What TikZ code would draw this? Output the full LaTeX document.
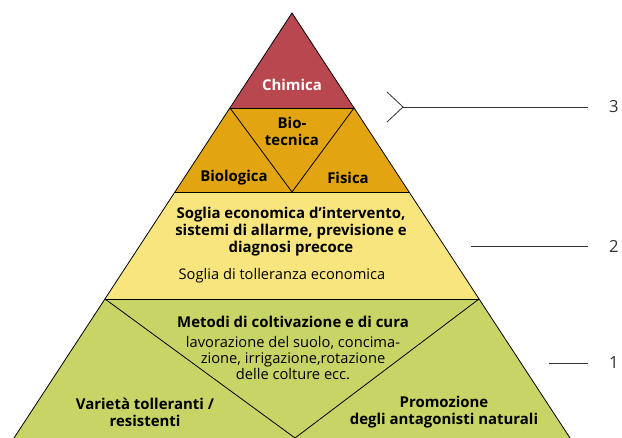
\documentclass[tikz,border=0pt]{standalone}
\usepackage{fontspec}
\setmainfont{Open Sans}
\usetikzlibrary{positioning, calc}
\definecolor{chemred}{HTML}{B8474F}
\definecolor{techorange}{HTML}{E2A511}
\definecolor{thresyellow}{HTML}{F8E57E}
\definecolor{basegreen}{HTML}{C9D466}
\definecolor{levelgray}{HTML}{333333}
\tikzset{
  pyr/layer/.style={draw=black, line width=0.6pt, line join=miter},
  pyr/split/.style={draw=black, line width=0.6pt},
  pyr/label/.style={font=\fontsize{11.2}{12.75}\selectfont\bfseries,
    align=center, inner sep=0pt},
  pyr/note/.style={font=\fontsize{11}{12}\selectfont, align=center,
    inner sep=0pt},
  pyr/level/.style={font=\fontsize{12.5}{14}\selectfont, text=levelgray,
    inner sep=0pt},
  pyr/tick/.style={draw=black!80, line width=0.6pt, shorten >=16pt},
}

\begin{document}
\begin{tikzpicture}[x=0.75pt, y=-0.75pt]
\useasboundingbox (0,0) rectangle (622,438);

% ── Pyramid corners ──────────────────────────────────────
\coordinate (top) at (292,13);
\coordinate (c1l) at (230,108);  \coordinate (c1r) at (354,108);
\coordinate (c2l) at (175,192);  \coordinate (c2r) at (409,192);
\coordinate (c2m) at (292,192);
\coordinate (c3l) at (105,299);  \coordinate (c3r) at (479,299);
\coordinate (c4l) at (14,438);   \coordinate (c4r) at (570,438);
\coordinate (c4m) at (295,438);

% ── Layers ───────────────────────────────────────────────
\fill[basegreen] (c3l) -- (c3r) -- (c4r) -- (c4l) -- cycle;
\fill[thresyellow] (c2l) -- (c2r) -- (c3r) -- (c3l) -- cycle;
\fill[techorange] (c1l) -- (c1r) -- (c2r) -- (c2l) -- cycle;
\fill[chemred] (top) -- (c1r) -- (c1l) -- cycle;

\draw[pyr/layer] (c4l) -- (top) -- (c4r);
\draw[pyr/split] (c1l) -- (c1r);
\draw[pyr/split] (c2l) -- (c2r);
\draw[pyr/split] (c3l) -- (c3r);
\draw[pyr/split] (c1l) -- (c2m) -- (c1r);
\draw[pyr/split] (c3l) -- (c4m) -- (c3r);

% ── Level 3: chemical and technical means ────────────────
\node[pyr/label, text=white] (chem) at (292,85) {Chimica};
\node[pyr/label] (biotech) at (292,131) {Bio-\\tecnica};
\node[pyr/label] (biol) at (234,178) {Biologica};
\node[pyr/label] (phys) at (348,178) {Fisica};

% ── Level 2: thresholds ──────────────────────────────────
\node[pyr/label] (thres) at (291,232)
  {Soglia economica d’intervento,\\sistemi di allarme, previsione e\\diagnosi precoce};
\node[pyr/note] (toler) at (282,276) {Soglia di tolleranza economica};

% ── Level 1: prevention ──────────────────────────────────
\node[pyr/label] (methods) at (293,322) {Metodi di coltivazione e di cura};
\node[pyr/note] (methtext) at (293,358)
  {lavorazione del suolo, concima-\\zione, irrigazione,rotazione\\delle colture ecc.};
\node[pyr/label] (variety) at (145,412) {Varietà tolleranti /\\resistenti};
\node[pyr/label] (antag) at (444,412) {Promozione\\degli antagonisti naturali};

% ── Level markers ────────────────────────────────────────
\node[pyr/level] (lev3) at (614,107) {3};
\node[pyr/level] (lev2) at (614,246) {2};
\node[pyr/level] (lev1) at (614,363) {1};

\coordinate (t3) at (403,107);
\coordinate (t3a) at (387,92);
\coordinate (t3b) at (387,122);
\coordinate (t2) at (471,246);
\coordinate (t1) at (549,363);

\draw[pyr/split, draw=black!80] (t3a) -- (t3) -- (t3b);
\draw[pyr/tick] (t3) -- (lev3);
\draw[pyr/tick] (t2) -- (lev2);
\draw[pyr/tick] (t1) -- (lev1);

\end{tikzpicture}
\end{document}
